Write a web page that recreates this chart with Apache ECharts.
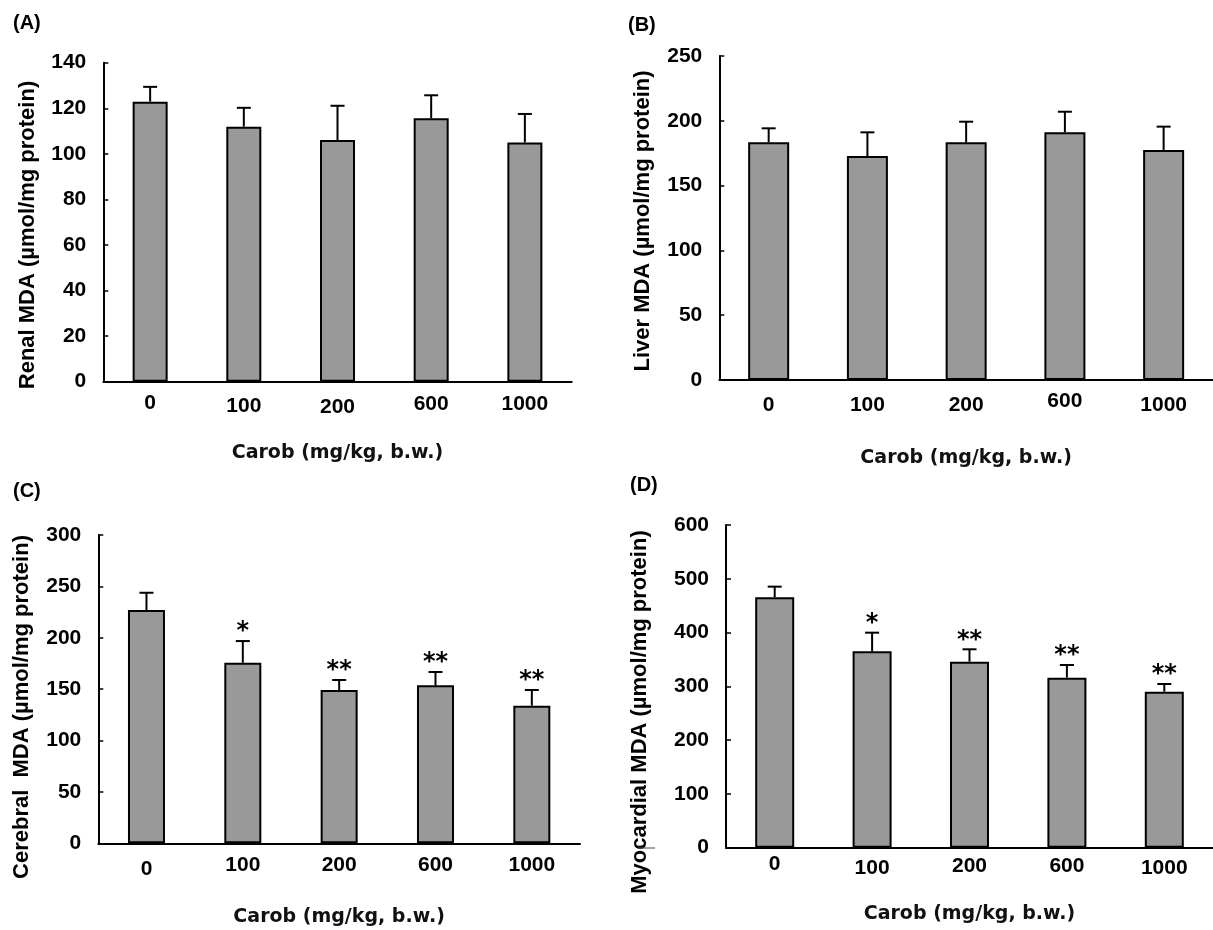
<!DOCTYPE html>
<html>
<head>
<meta charset="utf-8">
<script src="https://cdn.jsdelivr.net/npm/echarts@6/dist/echarts.min.js"></script>
<style>
html,body{margin:0;padding:0;background:#fff;}
#chart{width:1213px;height:930px;}
</style>
</head>
<body>
<div id="chart"></div>
<script>
// ---- data ----
const categories = ['0', '100', '200', '600', '1000'];

const renalMean = [122.9, 111.9, 106.1, 115.6, 105.0];
const renalErr  = [6.5, 8.3, 15.0, 10.1, 12.5];
const renalSig  = ['', '', '', '', ''];

const liverMean = [183.4, 172.8, 183.4, 191.1, 177.5];
const liverErr  = [10.8, 18.3, 15.9, 15.9, 18.0];
const liverSig  = ['', '', '', '', ''];

const cerebralMean = [227.0, 175.7, 149.2, 153.7, 133.9];
const cerebralErr  = [16.8, 21.1, 9.7, 13.0, 15.3];
const cerebralSig  = ['', '*', '**', '**', '**'];

const myoMean = [465.6, 365.2, 345.9, 316.2, 290.1];
const myoErr  = [19.8, 34.6, 23.0, 23.5, 14.3];
const myoSig  = ['', '*', '**', '**', '**'];

const yTicksRenal = { max: 140, interval: 20 };
const yTicksLiver = { max: 250, interval: 50 };
const yTicksCerebral = { max: 300, interval: 50 };
const yTicksMyo = { max: 600, interval: 100 };

const xAxisTitle = 'Carob (mg/kg, b.w.)';
const yTitles = ['Renal MDA (µmol/mg protein)', 'Liver MDA (µmol/mg protein)',
                 'Cerebral  MDA (µmol/mg protein)', 'Myocardial MDA (µmol/mg protein)'];
const panelLabels = ['(A)', '(B)', '(C)', '(D)'];

// ---- layout / style ----
const FONT = "'Liberation Sans', Arial, Helvetica, sans-serif";
const NAMEFONT = "'DejaVu Sans', Verdana, sans-serif";
const panels = [
  { mean: renalMean, err: renalErr, sig: renalSig, y: yTicksRenal,
    grid: { left: 103.3, top: 62.7, right: 641.3, bottom: 548.3 }, barWidth: 35,
    labelMargin: 10, labelDrop: [1, 4, 5, 2, 2], nameGap: 62,
    yName: { x: 28, y: 235 }, panel: { x: 13, y: 13 } },
  { mean: liverMean, err: liverErr, sig: liverSig, y: yTicksLiver,
    grid: { left: 719.3, top: 56, right: -10.3, bottom: 550 }, barWidth: 41,
    labelMargin: 11, labelDrop: [4, 4, 4, 0, 4], nameGap: 69,
    yName: { x: 643, y: 221 }, panel: { x: 628, y: 15 } },
  { mean: cerebralMean, err: cerebralErr, sig: cerebralSig, y: yTicksCerebral,
    grid: { left: 98.3, top: 535, right: 633, bottom: 86.7 }, barWidth: 37,
    labelMargin: 11, labelDrop: [4, 0, 0, 0, 0], nameGap: 64,
    yName: { x: 22, y: 707 }, panel: { x: 13, y: 481 } },
  { mean: myoMean, err: myoErr, sig: myoSig, y: yTicksMyo,
    grid: { left: 726, top: 525, right: -13, bottom: 82.3 }, barWidth: 39,
    labelMargin: 6, labelDrop: [0, 4, 2, 2, 4], nameGap: 57,
    yName: { x: 640, y: 712 }, panel: { x: 630, y: 475 } }
];

const grids = [], xAxes = [], yAxes = [], series = [], graphics = [];

panels.forEach((p, i) => {
  grids.push(Object.assign({ containLabel: false }, p.grid));
  const rich = {};
  p.labelDrop.forEach((d, k) => {
    rich['c' + k] = { color: '#000', fontFamily: FONT, fontWeight: 'bold', fontSize: 21, padding: [d, 0, 0, 0] };
  });
  xAxes.push({
    type: 'category', gridIndex: i, data: categories, boundaryGap: true,
    axisLine: { lineStyle: { color: '#000', width: 2 } },
    axisTick: { show: false },
    axisLabel: { interval: 0, hideOverlap: false, color: '#000', fontFamily: FONT, fontWeight: 'bold',
                 fontSize: 21, margin: p.labelMargin,
                 formatter: (v, k) => '{c' + k + '|' + v + '}', rich: rich },
    name: xAxisTitle, nameLocation: 'middle', nameGap: p.nameGap,
    nameTextStyle: { color: '#111', fontFamily: NAMEFONT, fontWeight: 'bold', fontSize: 19 },
    splitLine: { show: false }
  });
  yAxes.push({
    type: 'value', gridIndex: i, min: 0, max: p.y.max, interval: p.y.interval,
    axisLine: { show: true, lineStyle: { color: '#000', width: 2 } },
    axisTick: { show: true, inside: true, length: 5, lineStyle: { color: '#000', width: 1.5 } },
    axisLabel: { color: '#000', fontFamily: FONT, fontWeight: 'bold', fontSize: 21, margin: 17 },
    splitLine: { show: false }
  });
  series.push({
    type: 'bar', xAxisIndex: i, yAxisIndex: i, data: p.mean, barWidth: p.barWidth,
    itemStyle: { color: '#999999', borderColor: '#000', borderWidth: 2 },
    emphasis: { disabled: true }, silent: true, animation: false, z: 2
  });
  const sig = p.sig;
  series.push({
    type: 'custom', xAxisIndex: i, yAxisIndex: i,
    data: p.mean.map((m, k) => [k, m, p.err[k]]),
    encode: { x: 0, y: 1 },
    animation: false, silent: true, z: 3,
    renderItem: function (params, api) {
      const idx = api.value(0), m = api.value(1), e = api.value(2);
      const base = api.coord([idx, m]);
      const top = api.coord([idx, m + e]);
      const half = 7;
      const ls = { stroke: '#000', lineWidth: 2 };
      const children = [
        { type: 'line', shape: { x1: base[0], y1: base[1], x2: top[0], y2: top[1] }, style: ls },
        { type: 'line', shape: { x1: top[0] - half, y1: top[1], x2: top[0] + half, y2: top[1] }, style: ls }
      ];
      const s = sig[params.dataIndex];
      if (s) {
        children.push({
          type: 'text',
          style: { text: s, x: top[0], y: top[1] - 9, textAlign: 'center', textVerticalAlign: 'middle',
                   font: "bold 24px 'DejaVu Sans', sans-serif", fill: '#000' }
        });
      }
      return { type: 'group', children: children };
    }
  });
  graphics.push({
    type: 'text', x: p.yName.x, y: p.yName.y, rotation: Math.PI / 2,
    style: { text: yTitles[i], x: 0, y: 0, textAlign: 'center', textVerticalAlign: 'middle',
             font: "bold 22px " + FONT, fill: '#000' }
  });
  graphics.push({
    type: 'text', x: p.panel.x, y: p.panel.y,
    style: { text: panelLabels[i], x: 0, y: 0, textAlign: 'left', textVerticalAlign: 'top',
             font: "bold 20px " + FONT, fill: '#000' }
  });
});

// small stray stroke beside the zero of panel D
graphics.push({ type: 'line', shape: { x1: 638, y1: 848, x2: 655, y2: 848 }, style: { stroke: '#444', lineWidth: 1 } });

const chart = echarts.init(document.getElementById('chart'), null, { renderer: 'canvas' });
chart.setOption({
  backgroundColor: '#fff',
  animation: false,
  grid: grids, xAxis: xAxes, yAxis: yAxes, series: series, graphic: graphics
});
</script>
</body>
</html>
